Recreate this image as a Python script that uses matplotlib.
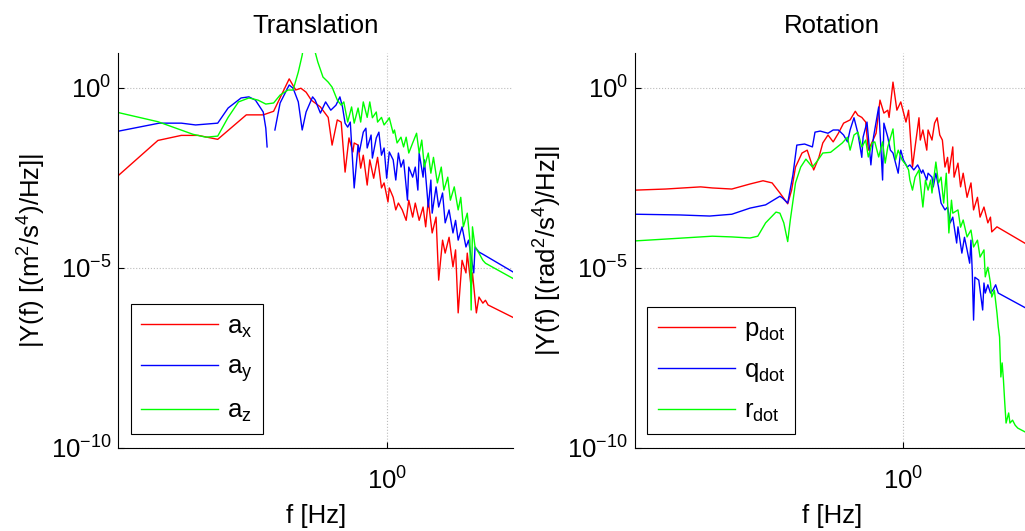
import numpy as np
import matplotlib
matplotlib.use("Agg")
import matplotlib.pyplot as plt
from matplotlib.ticker import FixedLocator, NullLocator

plt.rcParams['font.family'] = ['Liberation Sans', 'DejaVu Sans']
plt.rcParams['mathtext.fontset'] = 'custom'
plt.rcParams['mathtext.rm'] = 'Liberation Sans'
plt.rcParams['mathtext.it'] = 'Liberation Sans:italic'
plt.rcParams['mathtext.bf'] = 'Liberation Sans:bold'
plt.rcParams['mathtext.default'] = 'regular'
plt.rcParams['axes.unicode_minus'] = False

# values, stored as log10(f [Hz]) and log10(|Y(f)|)
# --- Translation ---
ax_logf = [-2.06, -1.76, -1.58, -1.45, -1.30, -1.08, -0.95, -0.87, -0.75, -0.70,
           -0.66, -0.62, -0.58, -0.51, -0.45, -0.42, -0.38, -0.35, -0.32, -0.29,
           -0.26, -0.25, -0.22, -0.20, -0.18, -0.15, -0.13, -0.10, -0.07, -0.04,
           -0.02, 0.01, 0.02, 0.05, 0.07, 0.09, 0.12, 0.15, 0.17, 0.20,
           0.22, 0.25, 0.28, 0.30, 0.32, 0.35, 0.38, 0.40, 0.43, 0.45,
           0.48, 0.51, 0.53, 0.55, 0.58, 0.61, 0.62, 0.65, 0.66, 0.69,
           0.71, 0.74, 0.76, 0.78, 0.98]
ax_logy = [-2.43, -1.47, -1.33, -1.33, -1.44, -0.76, -0.76, -0.66, 0.24, -0.07,
           -0.02, -0.13, -0.35, -0.54, -0.83, -1.60, -0.90, -0.96, -2.35, -1.40,
           -1.79, -1.54, -1.60, -2.24, -1.88, -2.71, -2.01, -2.52, -1.94, -2.79,
           -2.65, -3.18, -2.79, -3.05, -3.40, -3.21, -3.40, -3.69, -3.13, -3.60,
           -3.21, -3.69, -3.32, -3.87, -3.13, -4.04, -3.60, -5.35, -4.24, -4.60,
           -4.16, -4.98, -4.51, -6.26, -4.80, -5.15, -4.60, -5.54, -5.15, -6.26,
           -5.82, -5.99, -5.91, -6.04, -6.40]

# a_y has a short gap (nan) just below 0.15 Hz
ay_logf = [-2.06, -1.75, -1.58, -1.47, -1.30, -1.22, -1.12, -1.06, -1.01, -0.95,
           -0.93, -0.92, np.nan, -0.86, -0.82, -0.75, -0.72, -0.68, -0.65, -0.62,
           -0.57, -0.55, -0.51, -0.47, -0.43, -0.39, -0.36, -0.34, -0.32, -0.30,
           -0.28, -0.25, -0.22, -0.21, -0.18, -0.16, -0.15, -0.12, -0.11, -0.08,
           -0.06, -0.04, -0.02, 0.00, 0.02, 0.05, 0.07, 0.09, 0.11, 0.13,
           0.16, 0.17, 0.20, 0.22, 0.24, 0.25, 0.28, 0.29, 0.32, 0.34,
           0.35, 0.38, 0.40, 0.43, 0.45, 0.48, 0.51, 0.53, 0.55, 0.58,
           0.61, 0.63, 0.65, 0.67, 0.68, 0.71, 0.74, 0.98]
ay_logy = [-1.21, -0.99, -0.99, -1.04, -0.99, -0.57, -0.29, -0.26, -0.35, -0.68,
           -1.13, -1.65, np.nan, -1.18, -0.43, 0.07, -0.02, -0.40, -1.18, -0.68,
           -0.26, -0.35, -0.71, -0.40, -0.63, -0.49, -0.26, -0.54, -0.99, -1.10,
           -0.96, -2.79, -1.60, -1.79, -1.24, -1.13, -1.68, -1.32, -1.96, -1.40,
           -1.24, -1.88, -1.68, -2.52, -1.79, -2.01, -2.57, -1.82, -2.21, -2.01,
           -3.13, -2.21, -2.49, -2.21, -2.85, -1.82, -2.49, -2.01, -3.32, -2.57,
           -3.49, -2.76, -3.32, -2.93, -3.76, -3.40, -4.04, -3.69, -4.24, -3.87,
           -4.43, -4.24, -4.71, -5.15, -4.43, -4.57, -4.63, -5.14]

az_logf = [-2.06, -1.76, -1.49, -1.39, -1.30, -1.22, -1.14, -1.06, -0.99, -0.93,
           -0.87, -0.82, -0.76, -0.72, -0.68, -0.65, -0.64, -0.60, -0.57, -0.55,
           -0.53, -0.49, -0.45, -0.42, -0.38, -0.35, -0.33, -0.30, -0.27, -0.25,
           -0.22, -0.20, -0.18, -0.15, -0.13, -0.11, -0.08, -0.07, -0.04, -0.02,
           0.01, 0.02, 0.05, 0.06, 0.08, 0.11, 0.13, 0.15, 0.17, 0.20,
           0.23, 0.25, 0.27, 0.29, 0.32, 0.34, 0.36, 0.39, 0.42, 0.44,
           0.47, 0.49, 0.52, 0.55, 0.57, 0.59, 0.62, 0.64, 0.65, 0.66,
           0.68, 0.71, 0.74, 0.76, 0.98]
az_logy = [-0.70, -0.95, -1.30, -1.38, -1.35, -0.83, -0.40, -0.29, -0.35, -0.46,
           -0.43, -0.21, -0.07, -0.07, 0.43, 0.90, 1.15, 1.30, 1.15, 0.98,
           0.71, 0.29, 0.15, 0.01, -0.35, -0.49, -0.40, -0.96, -0.54, -0.99,
           -0.57, -0.96, -0.40, -0.83, -0.40, -0.84, -0.68, -0.96, -0.83, -1.04,
           -0.90, -0.84, -1.27, -1.18, -1.54, -1.38, -1.65, -1.38, -1.82, -1.54,
           -1.27, -1.82, -1.46, -2.21, -1.82, -2.38, -1.94, -2.65, -2.21, -2.85,
           -2.49, -3.13, -2.76, -3.40, -3.05, -3.87, -3.49, -4.24, -6.18, -3.87,
           -4.43, -4.60, -4.80, -4.88, -5.32]

# --- Rotation ---
p_logf = [-2.06, -1.83, -1.56, -1.47, -1.32, -1.18, -1.08, -1.01, -0.95, -0.89,
          -0.86, -0.83, -0.78, -0.74, -0.69, -0.65, -0.62, -0.58, -0.54, -0.50,
          -0.46, -0.41, -0.37, -0.35, -0.32, -0.29, -0.27, -0.24, -0.21, -0.18,
          -0.15, -0.12, -0.11, -0.08, -0.05, -0.02, 0.02, 0.04, 0.07, 0.09,
          0.12, 0.13, 0.15, 0.18, 0.19, 0.22, 0.24, 0.26, 0.28, 0.30,
          0.32, 0.34, 0.35, 0.38, 0.39, 0.42, 0.44, 0.46, 0.49, 0.52,
          0.54, 0.57, 0.59, 0.62, 0.65, 0.67, 0.68, 0.72, 0.98]
p_logy = [-2.85, -2.82, -2.76, -2.79, -2.82, -2.68, -2.59, -2.65, -2.93, -3.23,
          -2.85, -2.21, -1.82, -1.74, -2.29, -1.94, -1.54, -1.32, -1.51, -1.27,
          -0.99, -0.90, -0.66, -0.77, -0.83, -0.96, -1.74, -1.51, -1.27, -0.35,
          -0.71, -0.63, -0.83, 0.15, -0.63, -0.40, -0.96, -0.63, -2.21, -1.65,
          -0.84, -1.46, -1.18, -1.74, -1.18, -1.46, -0.99, -0.84, -1.32, -1.46,
          -2.21, -1.94, -2.38, -1.65, -2.49, -2.10, -2.76, -2.38, -3.05, -2.65,
          -3.40, -3.05, -3.60, -3.32, -3.76, -3.60, -4.01, -3.87, -4.42]

q_logf = [-2.06, -1.72, -1.49, -1.32, -1.18, -1.06, -0.95, -0.93, -0.89, -0.85,
          -0.82, -0.76, -0.70, -0.68, -0.64, -0.58, -0.54, -0.50, -0.46, -0.43,
          -0.41, -0.38, -0.35, -0.32, -0.31, -0.28, -0.25, -0.23, -0.19, -0.16,
          -0.15, -0.12, -0.10, -0.08, -0.04, -0.02, 0.00, 0.03, 0.05, 0.08,
          0.11, 0.14, 0.15, 0.18, 0.19, 0.22, 0.23, 0.25, 0.27, 0.29,
          0.32, 0.34, 0.36, 0.38, 0.41, 0.42, 0.45, 0.47, 0.49, 0.51,
          0.52, 0.53, 0.54, 0.55, 0.58, 0.61, 0.62, 0.63, 0.65, 0.67,
          0.69, 0.71, 0.73, 0.98]
q_logy = [-3.52, -3.54, -3.57, -3.52, -3.35, -3.26, -3.02, -3.07, -3.21, -2.43,
          -1.60, -1.57, -1.65, -1.24, -1.21, -1.27, -1.18, -1.18, -1.32, -1.51,
          -1.18, -0.84, -1.27, -1.94, -1.38, -0.96, -2.15, -1.38, -0.54, -2.57,
          -0.99, -1.38, -1.74, -1.82, -2.38, -1.74, -2.01, -2.21, -2.15, -2.29,
          -2.15, -2.38, -2.29, -2.57, -2.38, -2.49, -2.76, -2.38, -2.76, -3.21,
          -3.40, -3.32, -3.76, -3.60, -4.32, -3.87, -4.60, -4.16, -4.51, -4.88,
          -4.24, -5.12, -6.46, -5.27, -5.35, -6.18, -5.43, -5.71, -5.48, -5.71,
          -5.62, -5.48, -5.71, -6.20]

r_logf = [-2.06, -1.83, -1.47, -1.32, -1.18, -1.12, -1.06, -0.98, -0.95, -0.92,
          -0.89, -0.87, -0.83, -0.79, -0.75, -0.70, -0.66, -0.62, -0.56, -0.47,
          -0.43, -0.41, -0.38, -0.35, -0.32, -0.29, -0.27, -0.24, -0.22, -0.19,
          -0.16, -0.14, -0.12, -0.08, -0.06, -0.04, -0.01, 0.02, 0.04, 0.05,
          0.07, 0.09, 0.12, 0.13, 0.15, 0.17, 0.19, 0.21, 0.22, 0.25,
          0.27, 0.29, 0.31, 0.33, 0.35, 0.37, 0.38, 0.42, 0.44, 0.46,
          0.49, 0.52, 0.54, 0.57, 0.59, 0.62, 0.63, 0.65, 0.67, 0.68,
          0.70, 0.72, 0.73, 0.74, 0.75, 0.76, 0.77, 0.78, 0.79, 0.81,
          0.82, 0.84, 0.86, 0.88, 0.98]
r_logy = [-4.26, -4.21, -4.13, -4.15, -4.18, -4.13, -3.76, -3.46, -3.49, -3.76,
          -4.28, -3.68, -2.65, -2.21, -1.99, -2.21, -2.03, -1.82, -1.80, -1.54,
          -1.38, -1.74, -1.32, -1.24, -1.65, -1.46, -1.93, -1.54, -1.51, -1.93,
          -1.51, -2.10, -1.65, -1.15, -2.01, -1.74, -2.01, -2.15, -2.29, -2.57,
          -2.85, -2.49, -2.29, -2.65, -3.32, -2.57, -2.85, -2.57, -2.93, -2.07,
          -2.65, -2.49, -3.21, -2.38, -4.04, -3.13, -3.49, -3.40, -3.88, -3.68,
          -4.15, -3.96, -4.43, -4.24, -4.71, -4.51, -5.26, -4.99, -5.43, -5.82,
          -5.63, -6.26, -6.65, -6.93, -8.04, -7.65, -8.13, -8.76, -9.32, -9.04,
          -9.32, -9.24, -9.38, -9.46, -9.65]

trans_series = [(ax_logf, ax_logy, 'r', r'$a_x$'),
                (ay_logf, ay_logy, 'b', r'$a_y$'),
                (az_logf, az_logy, 'g', r'$a_z$')]
rot_series = [(p_logf, p_logy, 'r', r'$p_{dot}$'),
              (q_logf, q_logy, 'b', r'$q_{dot}$'),
              (r_logf, r_logy, 'g', r'$r_{dot}$')]

colors = {'r': (1, 0, 0), 'b': (0, 0, 1), 'g': (0, 1, 0)}
FS = 18.5


def draw_panel(ax, series, title, ylabel):
    for lf, ly, c, lab in series:
        ax.plot(10 ** np.array(lf), 10 ** np.array(ly), color=colors[c],
                linewidth=1.0, label=lab)
    ax.set_xscale('log')
    ax.set_yscale('log')
    ax.set_xlim(10 ** -2.065, 10 ** 0.972)
    ax.set_ylim(1e-10, 10 ** 0.972)
    ax.xaxis.set_major_locator(FixedLocator([1.0]))
    ax.yaxis.set_major_locator(FixedLocator([1e-10, 1e-5, 1.0]))
    ax.xaxis.set_minor_locator(NullLocator())
    ax.yaxis.set_minor_locator(NullLocator())
    ax.grid(True, linestyle=':', color='#bcbcbc', linewidth=0.8)
    for s in ['top', 'right']:
        ax.spines[s].set_visible(False)
    for s in ['left', 'bottom']:
        ax.spines[s].set_linewidth(0.8)
    ax.tick_params(direction='in', length=4, width=0.8, labelsize=FS)
    ax.tick_params(axis='x', pad=14)
    ax.tick_params(axis='y', pad=5)
    ax.set_title(title, fontsize=FS, pad=14)
    ax.set_xlabel('f [Hz]', fontsize=FS, labelpad=7)
    ax.set_ylabel(ylabel, fontsize=FS, labelpad=2)
    leg = ax.legend(loc='lower left', bbox_to_anchor=(0.031, 0.034),
                    borderaxespad=0, fancybox=False, edgecolor='black',
                    framealpha=1, fontsize=FS, handlelength=3.0,
                    handletextpad=0.35, labelspacing=0.58, borderpad=0.4)
    leg.get_frame().set_linewidth(0.8)


fig = plt.figure(figsize=(10.25, 5.31), dpi=100)
ax1 = fig.add_axes([0.1154, 0.1572, 0.3851, 0.7439])
ax2 = fig.add_axes([0.6195, 0.1572, 0.3851, 0.7439])

draw_panel(ax1, trans_series, 'Translation', r'|Y(f) [(m$^2$/s$^4$)/Hz]|')
draw_panel(ax2, rot_series, 'Rotation', r'|Y(f) [(rad$^2$/s$^4$)/Hz]|')

fig.savefig('out.png', dpi=100)
